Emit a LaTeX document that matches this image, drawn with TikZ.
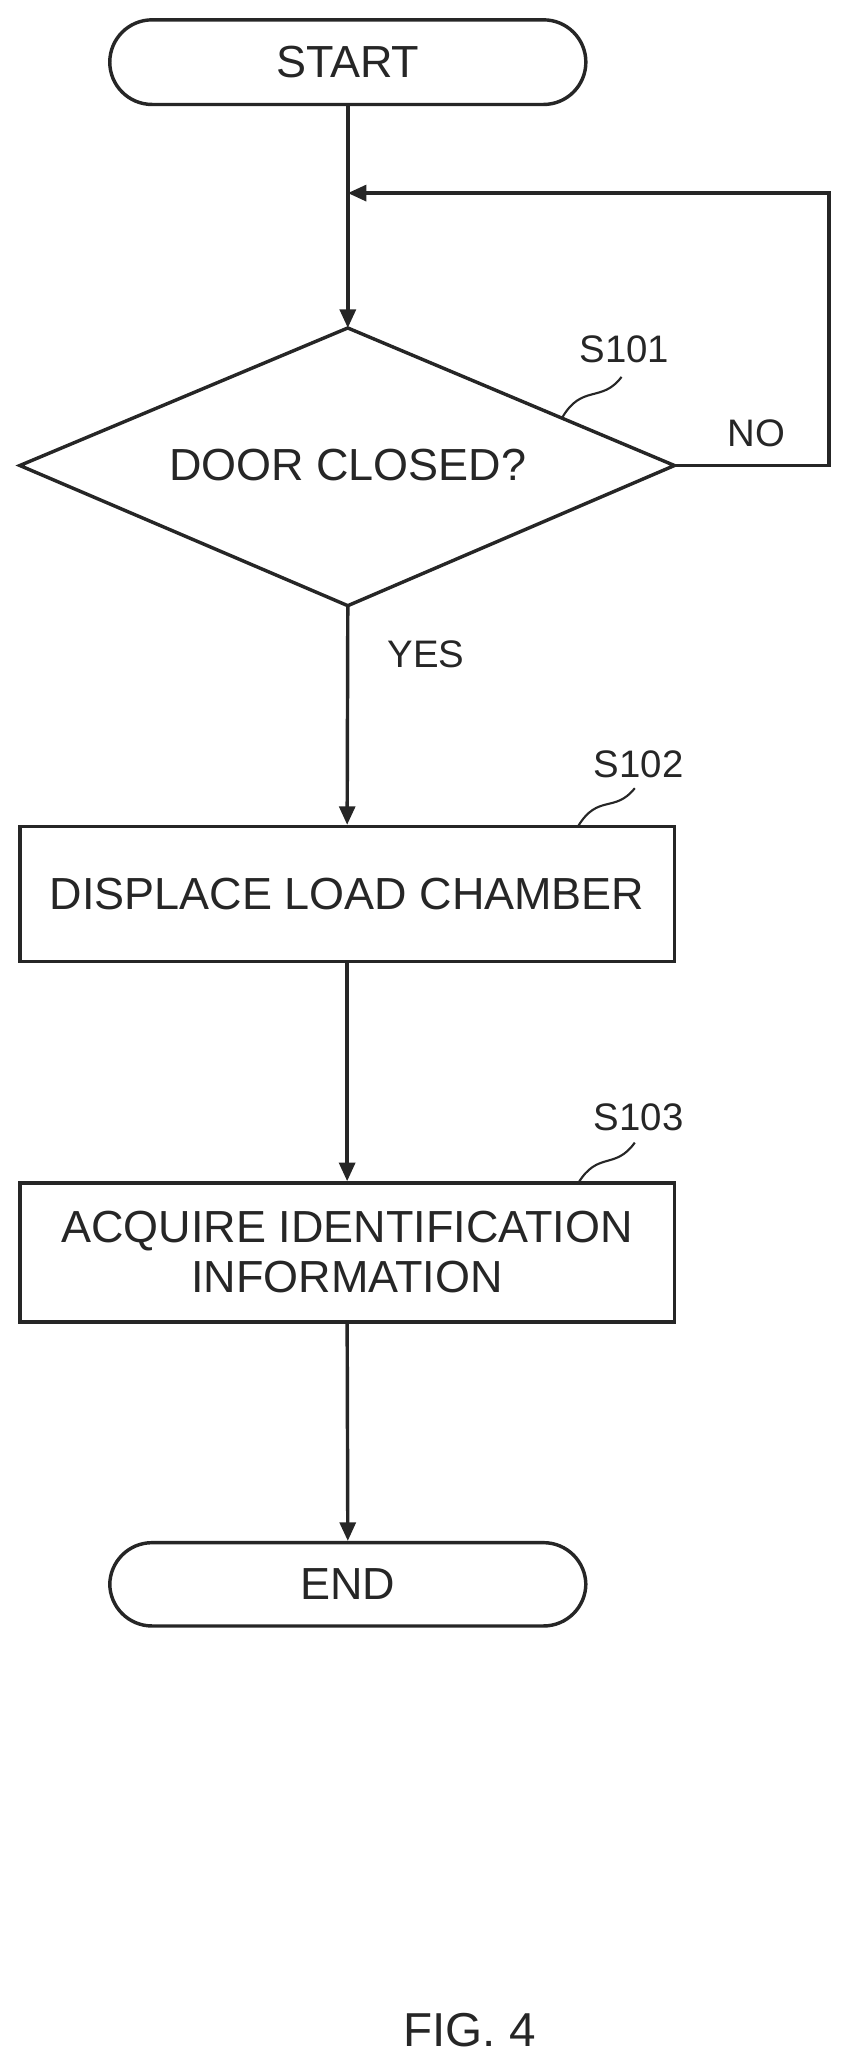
\documentclass[tikz,border=0pt]{standalone}
\usepackage{fontspec}
\setmainfont{Liberation Sans}
\usetikzlibrary{arrows.meta}
\begin{document}
\begin{tikzpicture}[x=1pt,y=-1pt,
  ln/.style={draw=black!85,line width=2.6pt},
  arr/.style={ln,-{Triangle[length=14pt,width=12pt]}},
  txt/.style={font=\fontsize{34}{38}\selectfont,text=black!85},
  lab/.style={font=\fontsize{29}{34}\selectfont,text=black!85}]
\useasboundingbox (0,0) rectangle (640,1563);
\node[ln,txt,rounded corners=32pt,minimum width=360pt,minimum height=64pt] (start) at (263,47) {START};
\coordinate (t) at (263,248);
\coordinate (r) at (510,352);
\coordinate (b) at (263,458);
\coordinate (l) at (15,352);
\draw[ln] (t)--(r)--(b)--(l)--cycle;
\node[txt] (q) at (263,352) {DOOR CLOSED?};
\node[ln,txt,minimum width=495pt,minimum height=102pt] (p1) at (262.5,676) {DISPLACE LOAD CHAMBER};
\node[ln,txt,minimum width=495pt,minimum height=105pt,align=center] (p2) at (262.5,947) {ACQUIRE IDENTIFICATION\\INFORMATION};
\node[ln,txt,rounded corners=32pt,minimum width=360pt,minimum height=63pt] (end) at (263,1198) {END};
\coordinate (j) at (263,146);
\coordinate (c1) at (627,352);
\coordinate (c2) at (627,146);
\draw[ln] (start.south)--(j);
\draw[arr] (j)--(t);
\draw[arr] (r)--(c1)--(c2)--(j);
\draw[arr] (b)--(p1.north);
\draw[arr] (p1.south)--(p2.north);
\draw[arr] (p2.south)--(end.north);
\node[lab] (nno) at (572,328) {NO};
\node[lab] (nyes) at (322,495) {YES};
\node[lab] (s1) at (472,264) {S101};
\node[lab] (s2) at (483,578) {S102};
\node[lab] (s3) at (483,845) {S103};
\draw[ln,line width=1.6pt] (425,316) .. controls (440,290) and (455,305) .. (470,285);
\draw[ln,line width=1.6pt] (437,625) .. controls (452,600) and (465,615) .. (480,596);
\draw[ln,line width=1.6pt] (437,895) .. controls (452,870) and (465,885) .. (480,864);
\node[font=\fontsize{36}{40}\selectfont,text=black!85] (fig) at (355,1535) {FIG. 4};
\end{tikzpicture}
\end{document}
